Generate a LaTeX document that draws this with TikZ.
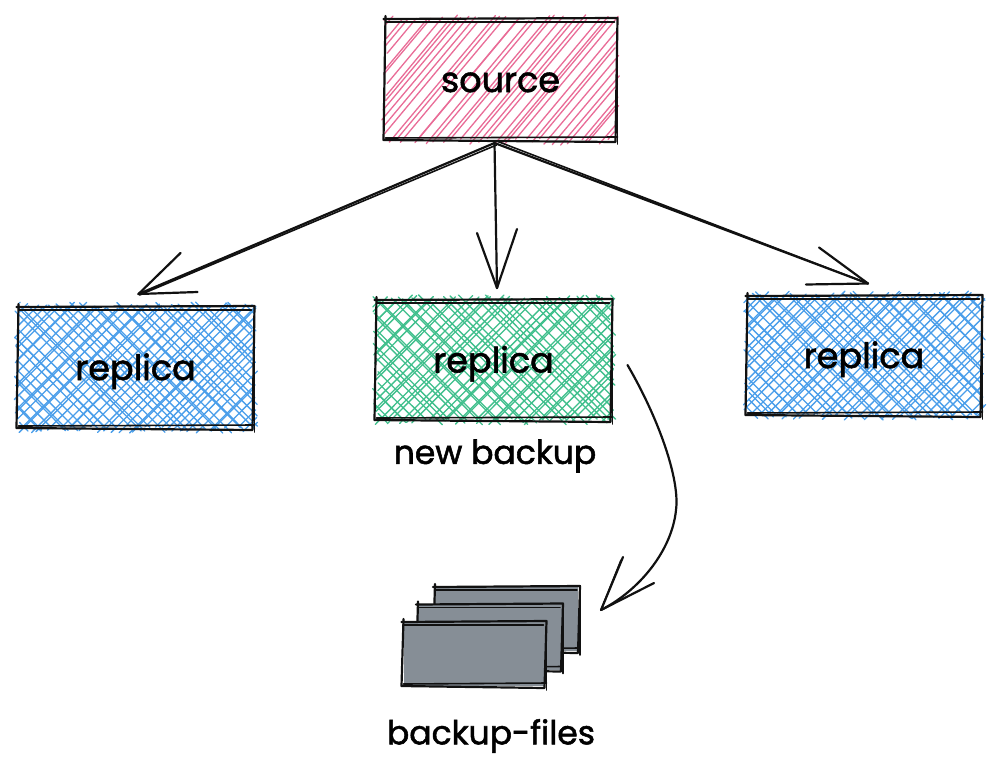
\documentclass[tikz,border=0pt]{standalone}
\usepackage{fontspec}
\setmainfont{Poppins}[RawFeature={embolden=1.6}]
\definecolor{pinkhatch}{HTML}{E96C97}
\definecolor{bluehatch}{HTML}{4A9EEA}
\definecolor{greenhatch}{HTML}{3FBF8C}
\definecolor{slatefill}{HTML}{868E96}
\definecolor{inkline}{HTML}{111111}
\newcommand\boxtext[1]{\raisebox{-12.5pt}[0pt][0pt]{#1}}
\tikzset{
  ink/.style={draw=inkline,line width=2.2pt,line cap=round,line join=round},
  inkthin/.style={draw=inkline,line width=1.6pt,line cap=round,line join=round},
  hatchline/.style={line width=1.3pt,line cap=round},
  boxnode/.style={inner sep=0pt,outer sep=0pt,text=black,font=\fontsize{35}{35}\selectfont},
  captionnode/.style={inner sep=0pt,text=black,font=\fontsize{33}{33}\selectfont},
  sheet/.style={fill=slatefill,inner sep=0pt,outer sep=0pt},
}
% x1 y1 x2 y2 colour slope step mirror
\newcommand\hatchbox[8]{%
  \pgfmathsetmacro\hh{#4-#2}%
  \pgfmathsetmacro\ww{#3-#1}%
  \pgfmathtruncatemacro\nn{(\ww+\hh/#6)/#7}%
  \foreach \i in {0,...,\nn}{%
    \pgfmathsetmacro\xo{-\hh/#6+(\i+1.1*rnd-0.55)*#7}%
    \pgfmathsetmacro\xs{max(0,\xo)}%
    \pgfmathsetmacro\ys{#6*(\xs-\xo)}%
    \pgfmathsetmacro\xe{min(\ww,\xo+\hh/#6)}%
    \pgfmathsetmacro\ye{#6*(\xe-\xo)}%
    \pgfmathsetmacro\oa{rnd*9-2}%
    \pgfmathsetmacro\ob{rnd*9-2}%
    \pgfmathsetmacro\xa{(#1+#3)/2+#8*(\xs-\oa*0.68-\ww/2)}%
    \pgfmathsetmacro\ya{#4-\ys+\oa*0.73}%
    \pgfmathsetmacro\xb{(#1+#3)/2+#8*(\xe+\ob*0.68-\ww/2)}%
    \pgfmathsetmacro\yb{#4-\ye-\ob*0.73}%
    \draw[hatchline,draw=#5] (\xa,\ya) -- (\xb,\yb);
  }%
}
% hand-drawn double outline on a named node
\newcommand\sketchbox[1]{%
  \draw[ink] ([shift={(-2,0)}]#1.north west) -- ([shift={(2,-1)}]#1.north east) -- ([shift={(0,2)}]#1.south east) -- ([shift={(-2,0)}]#1.south west) -- ([shift={(0,-3)}]#1.north west);
  \draw[inkthin] ([shift={(0,3)}]#1.north west) -- ([shift={(-1,3)}]#1.north east);
  \draw[inkthin] ([shift={(2,0)}]#1.north east) -- ([shift={(2,4)}]#1.south east);
  \draw[inkthin] ([shift={(0,-2)}]#1.south west) -- ([shift={(2,-3)}]#1.south east);
}
\begin{document}
\begin{tikzpicture}[x=1pt,y=-1pt]
\useasboundingbox (0,0) rectangle (1000,777);
\pgfmathsetseed{4242}
% hatching
\hatchbox{386}{20}{615}{140}{pinkhatch}{1.2}{7.5}{1}
\hatchbox{19}{307}{253}{428}{bluehatch}{1.0}{8}{1}
\hatchbox{19}{307}{253}{428}{bluehatch}{1.0}{8.5}{-1}
\hatchbox{377}{300}{611}{420}{greenhatch}{1.0}{8}{1}
\hatchbox{377}{300}{611}{420}{greenhatch}{1.0}{8.5}{-1}
\hatchbox{748}{296}{981}{415}{bluehatch}{1.0}{8}{1}
\hatchbox{748}{296}{981}{415}{bluehatch}{1.0}{8.5}{-1}
% boxes
\node[boxnode,minimum width=230pt,minimum height=121pt] (source) at (500.5,79.5) {\boxtext{source}};
\node[boxnode,minimum width=234pt,minimum height=121pt] (replicaL) at (135.5,367.5) {\boxtext{replica}};
\node[boxnode,minimum width=234pt,minimum height=120pt] (replicaM) at (493.5,360) {\boxtext{replica}};
\node[boxnode,minimum width=233pt,minimum height=119pt] (replicaR) at (864,355.5) {\boxtext{replica}};
\sketchbox{source}
\sketchbox{replicaL}
\sketchbox{replicaM}
\sketchbox{replicaR}
\node[captionnode] (newbackup) at (495,456) {new backup};
% stacked files
\node[sheet,minimum width=143pt,minimum height=64pt] (fileC) at (506.5,619) {};
\sketchbox{fileC}
\node[sheet,minimum width=143pt,minimum height=65pt] (fileB) at (489.5,637) {};
\sketchbox{fileB}
\node[sheet,minimum width=141pt,minimum height=64pt] (fileA) at (474,654) {};
\sketchbox{fileA}
\node[captionnode] (backupfiles) at (491,736) {backup-files};
% arrows from source
\draw[ink] ([shift={(-6,3)}]source.south) -- ([shift={(3,-13)}]replicaL.north);
\draw[inkthin] ([shift={(-4,5)}]source.south) -- ([shift={(4,-12)}]replicaL.north);
\draw[ink] ([shift={(3,-13)}]replicaL.north) -- ([shift={(45,-54)}]replicaL.north);
\draw[ink] ([shift={(3,-13)}]replicaL.north) -- ([shift={(62,-15)}]replicaL.north);
\draw[ink] ([shift={(-6,3)}]source.south) -- ([shift={(3.5,-12)}]replicaM.north);
\draw[ink] ([shift={(3.5,-12)}]replicaM.north) -- ([shift={(-16.5,-67)}]replicaM.north);
\draw[ink] ([shift={(3.5,-12)}]replicaM.north) -- ([shift={(23.5,-71)}]replicaM.north);
\draw[ink] ([shift={(-6,3)}]source.south) -- ([shift={(4,-12.5)}]replicaR.north);
\draw[inkthin] ([shift={(-4,1)}]source.south) -- ([shift={(4,-12.5)}]replicaR.north);
\draw[ink] ([shift={(4,-12.5)}]replicaR.north) -- ([shift={(-45,-48.5)}]replicaR.north);
\draw[ink] ([shift={(4,-12.5)}]replicaR.north) -- ([shift={(-58,-11.5)}]replicaR.north);
% curved arrow to the files
\coordinate (curvestart) at ([shift={(17,5)}]replicaM.east);
\coordinate (curvetip) at ([shift={(23,-9)}]fileC.east);
\draw[ink] (curvestart) .. controls +(32,55) and (680,480) .. (676,510) .. controls (672,550) and (640,590) .. (curvetip);
\draw[ink] (curvetip) -- ++(22,-53);
\draw[inkthin] (curvetip) -- ++(20,-50);
\draw[ink] (curvetip) -- ++(53,-27);
\end{tikzpicture}
\end{document}
